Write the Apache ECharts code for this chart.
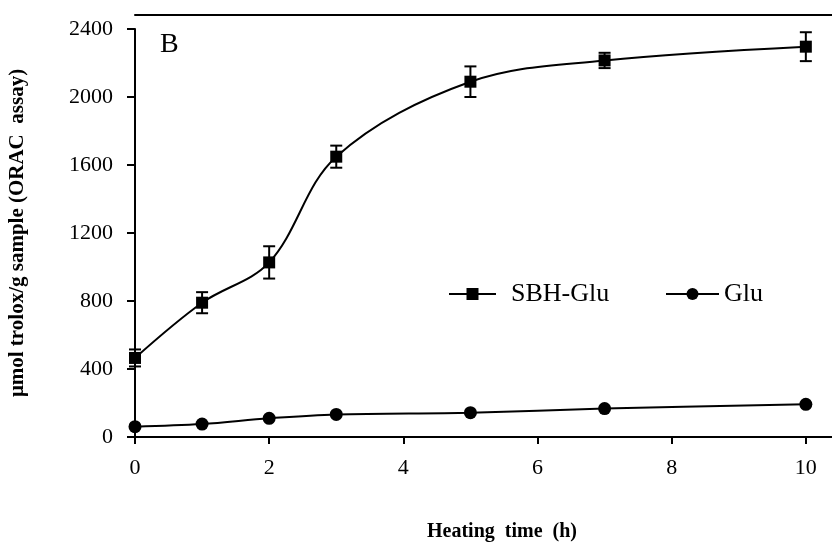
<!DOCTYPE html>
<html>
<head>
<meta charset="utf-8">
<script src="https://cdn.jsdelivr.net/npm/echarts@6/dist/echarts.min.js"></script>
<style>
  html, body { margin: 0; padding: 0; background: #fff; }
  #main { width: 832px; height: 552px; }
</style>
</head>
<body>
<div id="main"></div>
<script>
// heating time (h)
const hours = [0, 1, 2, 3, 5, 7, 10];
// SBH-Glu ORAC values and error (±)
const sbhGlu = [465, 790, 1027, 1649, 2090, 2215, 2296];
const sbhErr = [50, 62, 95, 65, 90, 45, 85];
// Glu ORAC values
const glu = [61, 76, 110, 133, 143, 167, 192];
const xTicks = [0, 2, 4, 6, 8, 10];

const font = '"Liberation Serif", "Times New Roman", serif';

const chart = echarts.init(document.getElementById('main'));

const sbhData = hours.map((h, i) => [h, sbhGlu[i]]);
const gluData = hours.map((h, i) => [h, glu[i]]);
const errData = hours.map((h, i) => [h, sbhGlu[i] - sbhErr[i], sbhGlu[i] + sbhErr[i]]);

const option = {
  animation: false,
  backgroundColor: '#fff',
  grid: { left: 135, top: 29, right: 0, bottom: 115, outerBoundsMode: 'none' },
  graphic: [
    {
      type: 'text', left: 160, top: 31,
      style: { text: 'B', font: '28px ' + font, fill: '#000' }
    },
    {
      type: 'text', left: 427, top: 522,
      style: { text: 'Heating  time  (h)', font: 'bold 20px ' + font, fill: '#000' }
    }
  ],
  legend: [
    {
      data: ['SBH-Glu'], left: 443, top: 276, itemWidth: 47, itemHeight: 15,
      textStyle: { fontFamily: font, fontSize: 26, color: '#000', padding: [0, 0, 0, 10] }
    },
    {
      data: ['Glu'], left: 660, top: 276, itemWidth: 53, itemHeight: 15,
      textStyle: { fontFamily: font, fontSize: 26, color: '#000' }
    }
  ],
  xAxis: [
    {
      type: 'value', min: 0, max: 10.39, interval: 2,
      axisLine: { lineStyle: { color: '#000', width: 2 } },
      axisTick: { length: 7, lineStyle: { color: '#000', width: 2 }, customValues: xTicks },
      axisLabel: { customValues: xTicks, color: '#000', fontFamily: font, fontSize: 22, margin: 20 },
      splitLine: { show: false }
    },
    {
      // top frame line
      type: 'value', position: 'top', offset: 14, min: 0, max: 10.39,
      axisLine: { show: true, lineStyle: { color: '#000', width: 2 } },
      axisTick: { show: false }, axisLabel: { show: false }, splitLine: { show: false }
    }
  ],
  yAxis: {
    type: 'value', min: 0, max: 2400, interval: 400,
    name: 'μmol trolox/g sample (ORAC  assay)',
    nameLocation: 'middle', nameGap: 107,
    nameTextStyle: { fontFamily: font, fontSize: 21, fontWeight: 'bold', color: '#000' },
    axisLine: { show: true, lineStyle: { color: '#000', width: 2 } },
    axisTick: { show: true, length: 8, lineStyle: { color: '#000', width: 2 } },
    axisLabel: { color: '#000', fontFamily: font, fontSize: 22, margin: 22, formatter: v => String(v) },
    splitLine: { show: false }
  },
  series: [
    {
      name: 'SBH-Glu', type: 'line', data: sbhData, smooth: 0.35,
      symbol: 'rect', symbolSize: 12,
      lineStyle: { color: '#000', width: 2 },
      itemStyle: { color: '#000' }, z: 3
    },
    {
      name: 'Glu', type: 'line', data: gluData, smooth: 0.35,
      symbol: 'circle', symbolSize: 13,
      lineStyle: { color: '#000', width: 2 },
      itemStyle: { color: '#000' }, z: 3
    },
    {
      name: 'err', type: 'custom', data: errData, z: 2,
      renderItem: function (params, api) {
        const x = api.value(0);
        const lo = api.coord([x, api.value(1)]);
        const hi = api.coord([x, api.value(2)]);
        const w = 6;
        const style = { stroke: '#000', lineWidth: 2 };
        return {
          type: 'group',
          children: [
            { type: 'line', shape: { x1: lo[0], y1: lo[1], x2: hi[0], y2: hi[1] }, style: style },
            { type: 'line', shape: { x1: lo[0] - w, y1: lo[1], x2: lo[0] + w, y2: lo[1] }, style: style },
            { type: 'line', shape: { x1: hi[0] - w, y1: hi[1], x2: hi[0] + w, y2: hi[1] }, style: style }
          ]
        };
      }
    }
  ]
};

chart.setOption(option);
</script>
</body>
</html>
